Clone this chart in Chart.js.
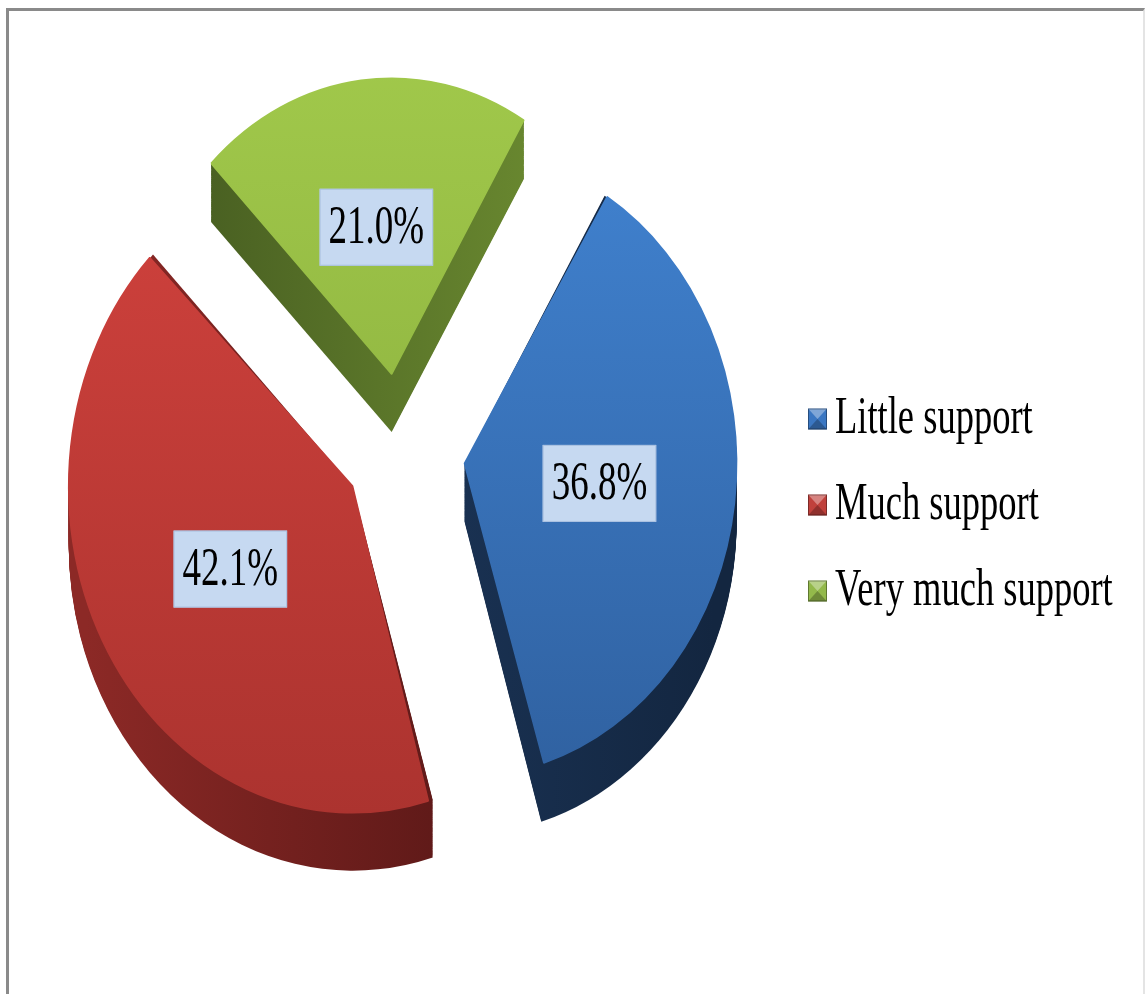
<!DOCTYPE html>
<html>
<head>
<meta charset="utf-8">
<script src="https://cdn.jsdelivr.net/npm/chart.js@4.4.0/dist/chart.umd.min.js"></script>
<style>
    html, body { margin: 0; padding: 0; background: #fff; }
    #wrap { position: relative; width: 1145px; height: 994px; overflow: hidden; }
    #myChart { display: block; }
    #frame {
        position: absolute; left: 6px; top: 8px; width: 1134px; height: 1000px;
        border-left: 3px solid #8a8a8a; border-top: 3px solid #8a8a8a; border-right: 2px solid #e4e4e4;
        pointer-events: none;
    }
</style>
</head>
<body>
<div id="wrap">
    <canvas id="myChart" width="1145" height="994"></canvas>
    <div id="frame"></div>
</div>
<script>
const labels = ['Little support', 'Much support', 'Very much support'];
const values = [36.8, 42.1, 21.0];

// colours: top face (light/dark) and the 3d side (left/right)
const faceTop = ['#4285d4', '#d3433e', '#a3cb4c'];
const faceBottom = ['#2e5e9c', '#a9322e', '#86aa3b'];
const sideLeft = ['#22416b', '#8c2926', '#3e521d'];
const sideRight = ['#132640', '#3d0e0e', '#7a9d37'];
const legendColors = ['#3b77c2', '#c0413c', '#93b94b'];

const SQUASH = 1.15;      // pie is a bit taller than wide
const DEPTH = 58;         // thickness of the slices in px
const TEXT_STRETCH = 1.5; // text in the picture is drawn tall and narrow

// Chart.js moves an exploded arc by offset/4 and grows its radius by offset/4 * fix
const arcGeom = (arc) => {
    const off = (arc.options.offset || 0) / 4;
    const fix = 1 - Math.sin(Math.min(Math.PI, arc.endAngle - arc.startAngle));
    const mid = (arc.startAngle + arc.endAngle) / 2;
    return {
        mid: mid,
        x: arc.x + Math.cos(mid) * off,
        y: arc.y + Math.sin(mid) * off,
        r: arc.outerRadius + off * fix
    };
};

const arcPath = (ctx, arc, dy) => {
    const g = arcGeom(arc);
    ctx.beginPath();
    ctx.moveTo(g.x, g.y + dy);
    ctx.arc(g.x, g.y + dy, g.r, arc.startAngle, arc.endAngle);
    ctx.closePath();
};

const pie3d = {
    id: 'pie3d',
    beforeDatasetsDraw(chart) {
        const ctx = chart.ctx;
        const arcs = chart.getDatasetMeta(0).data;
        const cx = arcs[0].x, cy = arcs[0].y;
        ctx.save();
        ctx.translate(cx, cy);
        ctx.scale(1, SQUASH);
        ctx.translate(-cx, -cy);
        arcs.forEach((arc, i) => {
            const g = ctx.createLinearGradient(cx - arc.outerRadius - 60, 0, cx + arc.outerRadius + 60, 0);
            g.addColorStop(0, sideLeft[i]);
            g.addColorStop(1, sideRight[i]);
            ctx.fillStyle = g;
            for (let d = DEPTH / SQUASH; d > 0; d -= 1) {
                arcPath(ctx, arc, d);
                ctx.fill();
            }
        });
    },
    afterDatasetsDraw(chart) {
        chart.ctx.restore();
    },
    afterDraw(chart) {
        const ctx = chart.ctx;
        const arcs = chart.getDatasetMeta(0).data;

        // value labels in light blue boxes
        ctx.save();
        ctx.font = '37px "Liberation Serif", "Times New Roman", serif';
        ctx.textAlign = 'center';
        ctx.textBaseline = 'middle';
        arcs.forEach((arc, i) => {
            const g = arcGeom(arc);
            const x = g.x + Math.cos(g.mid) * g.r * 0.5;
            const y = arc.y + (g.y - arc.y + Math.sin(g.mid) * g.r * 0.5) * SQUASH;
            const text = values[i].toFixed(1) + '%';
            const w = ctx.measureText(text).width + 18;
            const h = 77;
            ctx.fillStyle = '#c6d9f1';
            ctx.fillRect(x - w / 2, y - h / 2, w, h);
            ctx.strokeStyle = '#a9c0e0';
            ctx.lineWidth = 1;
            ctx.strokeRect(x - w / 2 + 0.5, y - h / 2 + 0.5, w - 1, h - 1);
            ctx.save();
            ctx.translate(x, y);
            ctx.scale(1, TEXT_STRETCH);
            ctx.fillStyle = '#000';
            ctx.fillText(text, 0, 1);
            ctx.restore();
        });
        ctx.restore();

        // legend on the right
        ctx.save();
        ctx.font = '36.5px "Liberation Serif", "Times New Roman", serif';
        ctx.textBaseline = 'middle';
        const lx = chart.chartArea.right + 8;
        labels.forEach((label, i) => {
            const y = 419 + i * 86;
            const bw = 19, bh = 21;
            const bx = lx, by = y - bh / 2;
            ctx.fillStyle = legendColors[i];
            ctx.fillRect(bx, by, bw, bh);
            // bevel look of the little squares
            ctx.fillStyle = 'rgba(255,255,255,0.35)';
            ctx.beginPath();
            ctx.moveTo(bx, by); ctx.lineTo(bx + bw, by); ctx.lineTo(bx + bw / 2, by + bh / 2); ctx.closePath();
            ctx.fill();
            ctx.fillStyle = 'rgba(0,0,0,0.25)';
            ctx.beginPath();
            ctx.moveTo(bx, by + bh); ctx.lineTo(bx + bw, by + bh); ctx.lineTo(bx + bw / 2, by + bh / 2); ctx.closePath();
            ctx.fill();
            ctx.strokeStyle = 'rgba(0,0,0,0.35)';
            ctx.lineWidth = 1;
            ctx.strokeRect(bx + 0.5, by + 0.5, bw - 1, bh - 1);

            ctx.save();
            ctx.translate(lx + 27, y);
            ctx.scale(1, 1.45);
            ctx.fillStyle = '#000';
            ctx.fillText(label, 0, 0);
            ctx.restore();
        });
        ctx.restore();
    }
};

const faceColor = (c) => {
    const chart = c.chart;
    const area = chart.chartArea;
    const i = c.dataIndex;
    if (!area) return faceTop[i];
    const cy = (area.top + area.bottom) / 2;
    const g = chart.ctx.createLinearGradient(0, cy - 330, 0, cy + 330);
    g.addColorStop(0, faceTop[i]);
    g.addColorStop(1, faceBottom[i]);
    return g;
};

let chart = null;

const myChart = () => {
    const ctx = document.getElementById('myChart').getContext('2d');
    if (chart) {
        chart.destroy();
    }
    chart = new Chart(ctx, {
        type: 'pie',
        data: {
            labels: labels,
            datasets: [{
                data: values,
                backgroundColor: faceColor,
                // thin border in the face colour hides the dark fringe of the side
                borderColor: faceColor,
                borderWidth: 1.5,
                // explode distance per slice
                offset: [260, 220, 280]
            }]
        },
        options: {
            responsive: false,
            animation: false,
            rotation: 31,
            radius: 255,
            layout: { padding: { left: 0, top: 0, right: 345, bottom: 86 } },
            plugins: {
                legend: { display: false },
                tooltip: { enabled: false }
            }
        },
        plugins: [pie3d]
    });
};

document.addEventListener('DOMContentLoaded', () => {
    myChart();
});
</script>
</body>
</html>
